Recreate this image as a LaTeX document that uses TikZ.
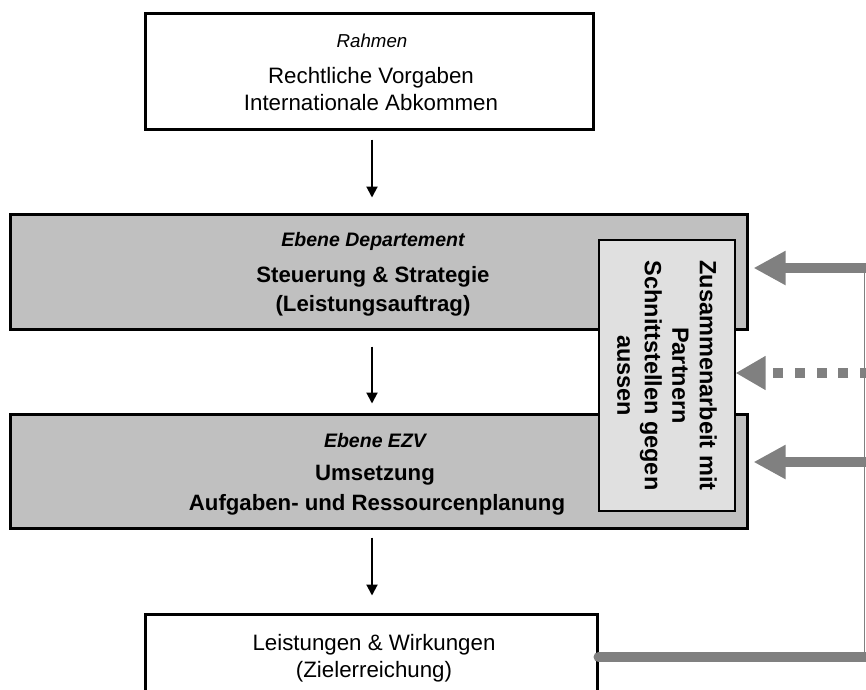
\documentclass[tikz,border=0pt]{standalone}
\usepackage{fontspec}
\setmainfont{Liberation Sans}
\usetikzlibrary{arrows.meta}
\definecolor{boxgray}{HTML}{C0C0C0}
\definecolor{sidegray}{HTML}{E0E0E0}
\definecolor{linkgray}{HTML}{808080}
\begin{document}
\begin{tikzpicture}[x=1pt,y=-1pt,
  frame/.style={draw=black, line width=3pt, rectangle, inner sep=0pt},
  regtxt/.style={anchor=base, inner sep=0pt, font=\fontsize{22.3}{26}\selectfont},
  boldtxt/.style={anchor=base, inner sep=0pt, font=\bfseries\fontsize{22.2}{26}\selectfont},
  ittxt/.style={anchor=base, inner sep=0pt, font=\itshape\fontsize{18.7}{22}\selectfont},
  bittxt/.style={anchor=base, inner sep=0pt, font=\bfseries\itshape\fontsize{19.5}{22}\selectfont},
  blk/.style={line width=2pt, -{Triangle[length=11pt,width=11pt]}},
  gline/.style={draw=linkgray, line width=10pt},
  thinline/.style={draw=linkgray, line width=1.5pt},
  garrow/.style={draw=linkgray, fill=linkgray, line width=10pt, -{Triangle[length=32pt,width=32pt]}},
  gdash/.style={draw=linkgray, line width=10pt, dash pattern=on 10pt off 11.7pt, -{Triangle[length=30pt,width=32pt]}}
]
\useasboundingbox (0,0) rectangle (866,689);
\clip (0,0) rectangle (866,689);

% boxes
\node[frame, fill=white, minimum width=448pt, minimum height=116pt] (rahmen) at (369,71) {};
\node[frame, fill=boxgray, minimum width=737pt, minimum height=115pt] (dept) at (378.5,271.5) {};
\node[frame, fill=boxgray, minimum width=737pt, minimum height=114pt] (ezv) at (378.5,471) {};
\node[frame, fill=white, minimum width=452pt, minimum height=86pt] (leist) at (371,657) {};
\node[draw=black, line width=1.2pt, fill=sidegray, inner sep=0pt, minimum width=136pt, minimum height=271pt] (side) at (667,375.5) {};

% texts
\node[ittxt] (rahmenA) at (372,47) {Rahmen};
\node[regtxt] (rahmenB) at (371,83.5) {Rechtliche Vorgaben};
\node[regtxt] (rahmenC) at (371,110) {Internationale Abkommen};

\node[bittxt] (deptA) at (373,246) {Ebene Departement};
\node[boldtxt] (deptB) at (373,282) {Steuerung \& Strategie};
\node[boldtxt] (deptC) at (373,311) {(Leistungsauftrag)};

\node[bittxt] (ezvA) at (375,447) {Ebene EZV};
\node[boldtxt] (ezvB) at (375,480) {Umsetzung};
\node[boldtxt] (ezvC) at (377,510) {Aufgaben- und Ressourcenplanung};

\node[regtxt] (leistA) at (374,650) {Leistungen \& Wirkungen};
\node[regtxt] (leistB) at (374,677) {(Zielerreichung)};

\node[rotate=-90, align=center, inner sep=0pt, font=\bfseries\fontsize{23.5}{27.5}\selectfont] (sideText) at (side.center) {Zusammenarbeit mit\\Partnern\\Schnittstellen gegen\\aussen};

% black arrows
\coordinate (ax) at (372,0);
\draw[blk, shorten <=9pt, shorten >=15pt] (rahmen.south -| ax) -- (dept.north -| ax);
\draw[blk, shorten <=16pt, shorten >=9pt] (dept.south -| ax) -- (ezv.north -| ax);
\draw[blk, shorten <=8pt, shorten >=17pt] (ezv.south -| ax) -- (leist.north -| ax);

% gray feedback
\coordinate (rb) at (870,657);
\coordinate (vt) at (864.5,268);
\coordinate (vb) at (864.5,657);
\coordinate (r1) at (870,268);
\coordinate (r2) at (870,373);
\coordinate (r3) at (870,462);
\draw[gline, line cap=round] (leist.east) -- (rb);
\draw[thinline] (vt) -- (vb);
\draw[garrow, shorten >=5pt] (r1) -- (r1 -| dept.east);
\draw[gdash] (r2) -- (r2 -| side.east);
\draw[garrow, shorten >=5pt] (r3) -- (r3 -| ezv.east);
\end{tikzpicture}
\end{document}
